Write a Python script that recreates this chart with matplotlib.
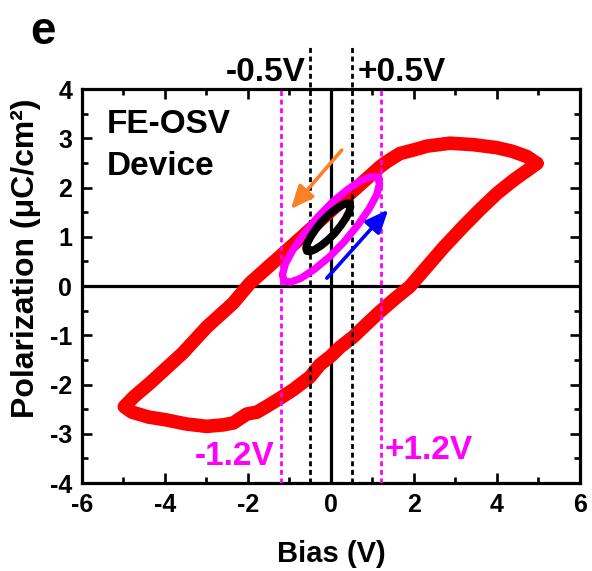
import matplotlib
matplotlib.use("Agg")
import matplotlib.pyplot as plt
from matplotlib.ticker import MultipleLocator

# FE-OSV P-V loops: large +/-5 V sweep and two minor loops (+/-1.2 V, +/-0.5 V)
big_v_up = [4.96, 4.72, 4.35, 3.99, 3.43, 2.87, 2.31, 1.98, 1.66, 1.34, 1.18,
            0.60, 0.00, -0.75, -1.47, -1.95, -2.36, -2.99, -3.57, -4.36, -4.75, -4.98]
big_p_up = [2.49, 2.63, 2.74, 2.81, 2.87, 2.90, 2.84, 2.76, 2.69, 2.52, 2.42,
            1.98, 1.53, 0.96, 0.42, 0.06, -0.35, -0.83, -1.36, -1.97, -2.25, -2.45]
big_v_down = [-4.80, -4.40, -3.96, -3.50, -3.00, -2.60, -2.35, -2.03, -1.78, -1.50,
              -1.23, -0.90, -0.51, -0.27, 0.00, 0.22, 0.54, 0.85, 1.18, 1.55, 1.90,
              2.30, 2.71, 3.20, 3.60, 4.00, 4.40, 4.75, 4.96]
big_p_down = [-2.56, -2.66, -2.72, -2.80, -2.85, -2.82, -2.78, -2.60, -2.56, -2.42,
              -2.28, -2.10, -1.85, -1.60, -1.42, -1.24, -1.03, -0.78, -0.52, -0.25, -0.01,
              0.38, 0.78, 1.22, 1.56, 1.88, 2.15, 2.36, 2.49]

mid_v = [1.13, 1.17, 1.10, 0.92, 0.65, 0.32, -0.04, -0.40, -0.72, -0.97,
         -1.13, -1.17, -1.10, -0.92, -0.65, -0.32, 0.04, 0.40, 0.72, 0.97, 1.13]
mid_p = [2.20, 2.07, 1.85, 1.57, 1.24, 0.90, 0.59, 0.34, 0.16, 0.08,
         0.10, 0.23, 0.45, 0.73, 1.06, 1.40, 1.71, 1.96, 2.14, 2.22, 2.20]

small_v = [0.45, 0.47, 0.44, 0.36, 0.24, 0.09, -0.08, -0.24, -0.39, -0.51,
           -0.58, -0.60, -0.57, -0.49, -0.37, -0.22, -0.05, 0.11, 0.26, 0.38, 0.45]
small_p = [1.67, 1.61, 1.51, 1.38, 1.23, 1.07, 0.93, 0.82, 0.74, 0.70,
           0.71, 0.77, 0.87, 1.00, 1.15, 1.31, 1.45, 1.56, 1.64, 1.68, 1.67]

small_limits = [-0.5, 0.5]
small_labels = ["-0.5V", "+0.5V"]
mid_limits = [-1.2, 1.2]
mid_labels = ["-1.2V", "+1.2V"]

# sweep direction arrows (tail, head)
up_arrow_v = [-0.10, 1.38]
up_arrow_p = [0.16, 1.55]
down_arrow_v = [0.26, -0.97]
down_arrow_p = [2.76, 1.56]

RED = "#FF0000"
MAGENTA = "#FF00FF"
BLUE = "#0000FF"
ORANGE = "#FF7F27"

plt.rcParams["font.family"] = ["Liberation Sans", "DejaVu Sans"]
plt.rcParams["font.weight"] = "bold"
plt.rcParams["axes.labelweight"] = "bold"
plt.rcParams["axes.unicode_minus"] = False

fig = plt.figure(figsize=(5.92, 5.71), dpi=100)
ax = fig.add_axes([0.1385, 0.1541, 0.8412, 0.6900])

ax.axhline(0, color="black", lw=2.3, zorder=1)
ax.axvline(0, color="black", lw=2.3, zorder=1)

ax.plot(big_v_up + big_v_down, big_p_up + big_p_down, color=RED, lw=9.8,
        solid_joinstyle="round", solid_capstyle="round", zorder=2)

dash = (0, (1.8, 1.3))
for v in small_limits:
    ax.axvline(v, ymin=0, ymax=1.115, color="black", lw=2.0,
               ls=dash, clip_on=False, zorder=3)
for v in mid_limits:
    ax.axvline(v, color=MAGENTA, lw=2.0, ls=dash, zorder=3)

ax.plot(mid_v, mid_p, color=MAGENTA, lw=5.3, solid_joinstyle="round", zorder=4)
ax.plot(small_v, small_p, color="black", lw=5.6, solid_joinstyle="round", zorder=5)

for av, ap, col in [(up_arrow_v, up_arrow_p, BLUE), (down_arrow_v, down_arrow_p, ORANGE)]:
    ax.annotate("", xy=(av[1], ap[1]), xytext=(av[0], ap[0]), zorder=6,
                arrowprops=dict(arrowstyle="-|>,head_length=0.7,head_width=0.3",
                                color=col, lw=2.6, mutation_scale=20,
                                shrinkA=0, shrinkB=0))

# limit labels
ax.annotate(small_labels[0], xy=(small_limits[0], 4), xytext=(-3, 6),
            textcoords="offset points", ha="right", va="baseline", fontsize=24,
            annotation_clip=False)
ax.annotate(small_labels[1], xy=(small_limits[1], 4), xytext=(4, 6),
            textcoords="offset points", ha="left", va="baseline", fontsize=24,
            annotation_clip=False)
ax.annotate(mid_labels[0], xy=(mid_limits[0], -3.63), xytext=(-5, 0),
            textcoords="offset points", ha="right", va="baseline", fontsize=24,
            color=MAGENTA)
ax.annotate(mid_labels[1], xy=(mid_limits[1], -3.51), xytext=(3, 0),
            textcoords="offset points", ha="left", va="baseline", fontsize=24,
            color=MAGENTA)

ax.text(0.05, 0.888, "FE-OSV", transform=ax.transAxes, fontsize=24, va="baseline")
ax.text(0.05, 0.782, "Device", transform=ax.transAxes, fontsize=24, va="baseline")
fig.text(30 / 592, 1 - 44 / 571, "e", fontsize=33, va="baseline")

ax.set_xlim(-6, 6)
ax.set_ylim(-4, 4)
ax.xaxis.set_major_locator(MultipleLocator(2))
ax.xaxis.set_minor_locator(MultipleLocator(1))
ax.yaxis.set_major_locator(MultipleLocator(1))
ax.yaxis.set_minor_locator(MultipleLocator(0.5))
ax.tick_params(which="both", direction="in", top=True, right=True, width=1.9)
ax.tick_params(which="major", length=7, labelsize=18, pad=7)
ax.tick_params(which="minor", length=4)
for lbl in ax.get_xticklabels() + ax.get_yticklabels():
    lbl.set_fontweight("bold")
for spine in ax.spines.values():
    spine.set_linewidth(2.3)

ax.set_xlabel("Bias (V)", fontsize=21)
ax.xaxis.set_label_coords(0.5, -0.145)
ax.set_ylabel("Polarization (μC/cm²)", fontsize=23)
ax.yaxis.set_label_coords(-0.082, 0.571)

fig.savefig("out.png", dpi=100)
